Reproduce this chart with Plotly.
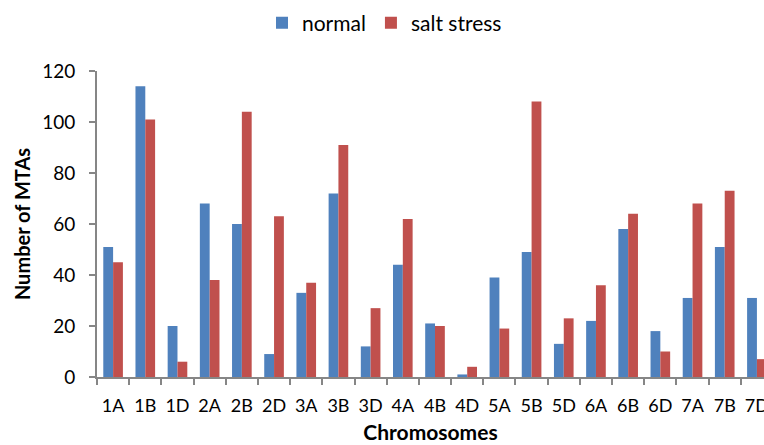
import plotly.graph_objects as go

chromosomes = ["1A", "1B", "1D", "2A", "2B", "2D", "3A", "3B", "3D", "4A", "4B",
               "4D", "5A", "5B", "5D", "6A", "6B", "6D", "7A", "7B", "7D"]
normal = [51, 114, 20, 68, 60, 9, 33, 72, 12, 44, 21, 1, 39, 49, 13, 22, 58, 18, 31, 51, 31]
salt_stress = [45, 101, 6, 38, 104, 63, 37, 91, 27, 62, 20, 4, 19, 108, 23, 36, 64, 10, 68, 73, 7]

font_family = "Lato, 'Open Sans', sans-serif"

fig = go.Figure()
fig.add_trace(go.Bar(x=chromosomes, y=normal, name="normal", marker_color="#4F81BD",
                     marker_line_width=0))
fig.add_trace(go.Bar(x=chromosomes, y=salt_stress, name="salt stress", marker_color="#C0504D",
                     marker_line_width=0))

fig.update_layout(
    width=764, height=445,
    margin=dict(l=97, r=0, t=71, b=68),
    paper_bgcolor="white", plot_bgcolor="white",
    barmode="group", bargap=0.39, bargroupgap=0,
    font=dict(family=font_family, size=16, color="black"),
    legend=dict(orientation="h", x=262 / 764, xanchor="left", xref="container",
                y=0.994, yanchor="top", yref="container",
                font=dict(size=21), traceorder="normal"),
    xaxis=dict(
        type="category", range=[-0.5, 20.22],
        showline=True, linecolor="#868686", linewidth=2,
        ticks="outside", tickson="boundaries", ticklen=6, tickcolor="#868686", tickwidth=2,
        tickfont=dict(size=18), ticklabelstandoff=11, tickangle=0,
        title=dict(text="<b>Chromosomes</b>", font=dict(size=21), standoff=11),
        showgrid=False, automargin=False,
    ),
    yaxis=dict(
        range=[0, 120], dtick=20,
        showline=True, linecolor="#868686", linewidth=2,
        ticks="outside", ticklen=6, tickcolor="#868686", tickwidth=2,
        tickfont=dict(size=19), ticklabelstandoff=10,
        title=dict(text="<b>Number of MTAs</b>", font=dict(size=20), standoff=6),
        showgrid=False, zeroline=False, automargin=False,
    ),
)

fig.write_html("out.html")
